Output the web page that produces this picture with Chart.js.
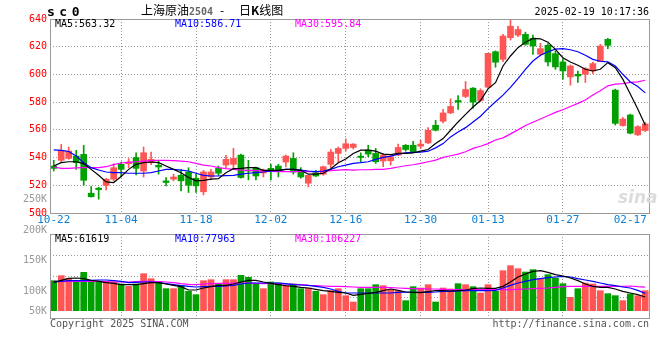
<!DOCTYPE html>
<html lang="zh">
<head>
  <meta charset="UTF-8">
  <title>上海原油2504 - 日K线图</title>
  <script src="https://cdn.jsdelivr.net/npm/chart.js"></script>
  <style>
    body { margin: 0; background: #fff; }
    #wrap { position: relative; width: 660px; height: 360px; overflow: hidden;
            font-family: 'DejaVu Sans Mono', monospace; font-size: 10px; }
    #wrap canvas { position: absolute; left: 0; top: 0; }
    .t { position: absolute; white-space: pre; line-height: 10px; }
    .vl { right: 613px; text-align: right; color: #999; }
  </style>
</head>
<body>
<div id="wrap">
  <canvas id="kChart" width="660" height="360"></canvas>
  <canvas id="volChart" width="660" height="360"></canvas>

  <div class="t" style="left:47px;top:5px;font:bold 13px 'DejaVu Sans Mono';line-height:13px;letter-spacing:4.5px">sc0</div>
  <div class="t" style="left:141px;top:4px;font:12px 'Noto Sans CJK SC';line-height:12px">上海原油<span style="font:bold 10px 'DejaVu Sans Mono';color:#666">2504</span></div>
  <div class="t" style="left:220px;top:4px;font:12px 'Noto Sans CJK SC';line-height:12px">-</div>
  <div class="t" style="left:239px;top:4px;font:12px 'Noto Sans CJK SC';line-height:12px">日<b>K</b>线图</div>
  <div class="t" style="right:11px;top:7px">2025-02-19 10:17:36</div>

  <div class="t" id="ma5Label" style="left:55px;top:19px;color:#000"></div>
  <div class="t" id="ma10Label" style="left:175px;top:19px;color:#00f"></div>
  <div class="t" id="ma30Label" style="left:295px;top:19px;color:#f0f"></div>

  <div class="t" id="vma5Label" style="left:55px;top:234px;color:#000"></div>
  <div class="t" id="vma10Label" style="left:175px;top:234px;color:#00f"></div>
  <div class="t" id="vma30Label" style="left:295px;top:234px;color:#f0f"></div>

  <div class="t vl" style="top:194px">250K</div>
  <div class="t vl" style="top:225px">200K</div>
  <div class="t vl" style="top:255px">150K</div>
  <div class="t vl" style="top:286px">100K</div>
  <div class="t vl" style="top:306px">50K</div>

  <div class="t" style="left:618px;top:189px;font:italic bold 17px 'DejaVu Sans';line-height:17px;color:#dcdcdc">sina</div>

  <div class="t" style="left:50px;top:319px;color:#555">Copyright 2025 SINA.COM</div>
  <div class="t" style="right:11px;top:319px;color:#555">http://finance.sina.com.cn</div>
</div>

<script>
  // trading days shown on the chart
  const dates = [
    '10-22','10-23','10-24','10-25','10-28','10-29','10-30','10-31','11-01','11-04',
    '11-05','11-06','11-07','11-08','11-11','11-12','11-13','11-14','11-15','11-18',
    '11-19','11-20','11-21','11-22','11-25','11-26','11-27','11-28','11-29','12-02',
    '12-03','12-04','12-05','12-06','12-09','12-10','12-11','12-12','12-13','12-16',
    '12-17','12-18','12-19','12-20','12-23','12-24','12-25','12-26','12-27','12-30',
    '12-31','01-02','01-03','01-06','01-07','01-08','01-09','01-10','01-13','01-14',
    '01-15','01-16','01-17','01-20','01-21','01-22','01-23','01-24','01-27','02-05',
    '02-06','02-07','02-10','02-11','02-12','02-13','02-14','02-17','02-18','02-19'
  ];
  const tickDates = ['10-22','11-04','11-18','12-02','12-16','12-30','01-13','01-27','02-17'];
  const gridDates = ['11-04','11-18','12-02','12-16','12-30','01-13','01-27'];

  const open = [
    533.9,538.0,539.4,541.1,542.3,514.3,517.9,520.0,524.4,535.1,
    535.6,540.0,530.3,536.3,534.4,523.2,524.4,527.2,529.6,525.1,
    515.3,526.0,532.2,534.6,535.1,541.8,531.0,532.7,528.9,532.2,
    533.9,536.8,539.4,530.8,521.5,529.1,528.0,535.1,543.0,546.6,
    547.3,541.0,545.4,543.0,537.5,537.7,541.8,548.9,548.9,548.2,
    550.6,563.3,566.2,572.2,581.2,584.1,590.1,581.2,590.8,616.4,
    610.9,626.5,628.4,628.9,626.0,614.5,621.0,615.0,609.0,598.2,
    600.1,600.1,602.5,609.2,625.3,588.7,563.1,570.7,556.4,559.5
  ];
  const high = [
    538.0,549.5,547.6,545.2,548.8,519.1,518.6,525.1,535.6,536.8,
    539.2,543.5,547.6,544.0,538.0,525.6,528.0,531.5,532.7,528.0,
    530.8,531.5,533.9,541.6,546.6,542.5,538.0,533.2,531.7,535.1,
    535.1,541.8,543.5,532.7,527.2,530.8,533.9,545.9,547.6,553.5,
    550.1,543.4,548.9,546.6,543.0,542.2,549.7,549.4,551.8,552.5,
    561.6,566.9,574.8,582.4,584.8,594.9,590.5,589.6,615.4,617.0,
    628.9,640.0,634.8,630.5,628.4,622.4,622.2,616.9,610.9,606.8,
    602.5,604.9,609.0,621.7,626.0,589.4,569.0,571.4,563.0,565.5
  ];
  const low = [
    530.3,536.3,538.7,531.5,520.0,511.5,510.0,516.7,523.2,526.0,
    532.7,527.5,526.0,534.9,528.0,519.6,523.2,516.0,514.8,514.8,
    513.1,523.9,527.2,532.7,532.2,525.1,523.9,523.9,526.0,523.9,
    526.0,533.2,528.0,525.1,518.9,526.3,527.2,532.7,536.8,544.7,
    546.1,537.0,540.6,535.8,533.4,534.6,541.3,544.6,543.7,546.6,
    550.1,559.2,565.0,571.7,574.8,583.2,575.7,580.5,590.1,605.2,
    609.2,624.8,627.2,621.0,614.5,613.3,606.1,603.7,596.6,592.2,
    594.2,594.2,600.6,609.2,618.6,563.5,562.6,557.1,555.9,558.8
  ];
  const close = [
    532.2,545.2,544.7,536.3,523.6,511.7,516.9,524.4,532.7,531.5,
    536.8,532.2,543.5,538.7,533.2,522.0,526.0,523.2,520.0,519.6,
    529.6,529.6,528.7,538.7,539.4,525.6,530.3,526.7,531.0,529.8,
    530.3,541.1,529.6,526.0,527.2,526.7,533.4,544.0,546.6,550.0,
    549.7,540.1,542.5,537.0,541.8,540.6,547.3,545.8,544.2,549.7,
    559.7,559.7,572.2,576.9,580.0,589.1,580.0,588.4,615.2,608.8,
    627.7,634.8,632.4,621.7,620.5,618.6,609.0,605.4,602.5,606.1,
    598.9,604.2,607.8,620.5,621.0,564.7,567.8,557.6,562.3,564.3
  ];

  // moving averages as drawn on the price panel
  const ma5 = [
    533.9,536.3,537.0,537.0,535.6,531.5,527.2,522.4,522.0,526.3,
    531.5,535.1,536.3,536.8,536.3,533.9,531.5,529.1,525.6,523.2,
    523.6,524.4,524.8,529.1,532.0,532.2,532.7,532.7,530.8,530.8,
    530.8,531.5,531.5,530.8,528.0,528.0,528.7,532.0,536.3,539.0,
    543.0,545.4,545.4,544.6,542.5,542.2,543.0,543.0,543.4,544.6,
    545.8,550.1,553.7,559.7,565.7,571.2,576.5,581.2,589.6,594.0,
    606.1,613.3,619.3,623.3,626.0,625.7,623.3,618.1,612.1,609.0,
    606.6,603.7,602.5,603.7,608.5,604.9,596.6,585.8,575.0,563.3
  ];
  const ma10 = [
    545.6,545.2,544.4,541.1,536.3,532.7,531.0,529.6,529.1,529.1,
    528.7,528.7,528.7,529.1,530.3,531.5,531.5,531.0,530.3,528.7,
    527.2,526.7,526.7,527.0,527.2,528.0,528.7,529.1,529.6,530.3,
    530.6,531.5,531.5,531.0,530.3,529.9,530.3,531.5,533.4,534.5,
    535.8,536.3,537.0,538.7,540.1,541.1,542.5,543.4,543.7,543.9,
    544.6,547.0,550.1,554.9,558.5,561.6,565.7,569.8,575.3,580.3,
    585.1,590.6,597.0,603.7,609.7,613.8,616.4,618.3,618.6,617.8,
    616.4,613.8,610.9,609.5,609.0,606.1,600.1,594.6,591.3,586.7
  ];
  const ma30 = [
    533.2,532.2,532.2,532.5,532.7,532.7,532.7,533.4,534.9,536.1,
    536.6,537.0,537.5,537.8,538.0,538.0,537.8,537.5,537.0,535.8,
    534.6,533.9,532.7,532.0,531.5,531.0,530.8,530.6,530.3,530.1,
    529.9,529.9,529.9,529.9,529.9,529.9,530.1,530.6,531.0,531.3,
    531.0,531.2,531.2,531.5,531.5,532.2,533.2,534.1,534.8,535.8,
    537.0,538.2,540.1,541.3,542.5,544.2,546.6,548.2,550.1,552.7,
    554.2,557.1,560.0,563.1,565.5,567.8,570.2,572.6,574.5,576.9,
    579.1,581.5,585.1,588.2,591.8,593.0,593.4,594.2,594.6,595.8
  ];

  // volume (lots) and its moving averages
  const volume = [
    135000,157500,144000,129000,172500,132000,129000,129000,129000,120000,
    109500,120000,166500,144000,129000,99000,99000,114000,87000,72000,
    135000,139500,121500,139500,139500,159000,150000,121500,99000,129000,
    124500,109500,120000,99000,102000,87000,72000,90000,99000,67500,
    39000,99000,99000,117000,112500,94500,90000,45000,108000,102000,
    117000,39000,102000,97500,121500,117000,108000,79500,117000,87000,
    180000,202500,189000,174000,184500,144000,162000,147000,121500,60000,
    99000,124500,120000,90000,76500,67500,45000,75000,67500,90000
  ];
  const vma5 = [
    127500,136500,145500,147000,144000,136500,132000,126000,123000,117000,
    117000,117000,121500,126000,126000,120000,114000,108000,93000,93000,
    102000,108000,114000,114000,120000,129000,136500,136500,129000,123000,
    117000,112500,109500,105000,102000,96000,90000,87000,82500,79500,
    69000,73500,78000,82500,90000,97500,91500,84000,82500,81000,
    85500,90000,90000,88500,90000,93000,99000,102000,100500,100500,
    109500,129000,151500,165000,177000,180000,172500,162000,156000,147000,
    135000,120000,109500,105000,105000,97500,87000,79500,72000,61619
  ];
  const vma10 = [
    129000,132000,135000,135000,135000,136500,138000,138000,135000,132000,
    126000,127500,129000,129000,126000,121500,117000,112500,109500,106500,
    108000,109500,109500,111000,114000,120000,124500,124500,124500,124500,
    124500,121500,117000,115500,114000,109500,105000,97500,87000,79500,
    79500,79500,79500,79500,79500,79500,82500,84000,82500,82500,
    82500,84000,87000,87000,88500,90000,90000,90000,90000,91500,
    102000,114000,124500,132000,139500,144000,148500,151500,154500,151500,
    144000,138000,132000,124500,117000,112500,106500,102000,91500,77963
  ];
  const vma30 = [
    132000,132000,132000,132000,132000,132000,132000,130500,129000,129000,
    129000,130500,132000,132000,130500,129000,126000,121500,118500,117000,
    120000,121500,123000,123000,124500,124500,124500,123000,121500,121500,
    121500,120000,118500,117000,114000,112500,111000,109500,109500,108000,
    106500,105000,105000,105000,105000,103500,102000,100500,99000,99000,
    97500,97500,96000,94500,94500,94500,94500,94500,94500,94500,
    94500,94500,96000,97500,99000,100500,102000,105000,108000,109500,
    109500,109500,109500,109500,109500,109500,109500,111000,108000,106227
  ];

  // header values
  const maText = ['MA5:563.32', 'MA10:586.71', 'MA30:595.84'];
  const vmaText = ['MA5:61619', 'MA10:77963', 'MA30:106227'];

  const RED = '#ff5555', GREEN = '#00a000', GRID = '#999';
  const FONT = 'DejaVu Sans Mono';

  document.getElementById('ma5Label').textContent = maText[0];
  document.getElementById('ma10Label').textContent = maText[1];
  document.getElementById('ma30Label').textContent = maText[2];
  document.getElementById('vma5Label').textContent = vmaText[0];
  document.getElementById('vma10Label').textContent = vmaText[1];
  document.getElementById('vma30Label').textContent = vmaText[2];

  const candleColors = dates.map((d, i) => close[i] >= open[i] ? RED : GREEN);

  // solid grey box round each panel
  const frame = {
    id: 'frame',
    afterDraw(chart) {
      const a = chart.chartArea, ctx = chart.ctx;
      ctx.save();
      ctx.strokeStyle = '#999';
      ctx.lineWidth = 1;
      ctx.setLineDash([]);
      ctx.strokeRect(Math.round(a.left) + 0.5, Math.round(a.top) + 0.5,
                     Math.round(a.right - a.left), Math.round(a.bottom - a.top));
      ctx.restore();
    }
  };

  function maLine(values, color) {
    return { type: 'line', data: values, borderColor: color, borderWidth: 1.2,
             pointRadius: 0, tension: 0, order: 0 };
  }

  function xAxis(showLabels, height) {
    return {
      offset: true,
      grid: {
        offset: false, drawTicks: false, lineWidth: 1,
        color: c => gridDates.includes(dates[c.index]) ? GRID : 'rgba(0,0,0,0)'
      },
      border: { display: false, dash: [1, 2] },
      ticks: {
        display: showLabels, autoSkip: false, maxRotation: 0, minRotation: 0, padding: 1,
        color: '#0a80d8', font: { family: FONT, size: 11 },
        callback: (v, i) => tickDates.includes(dates[i]) ? dates[i] : ''
      },
      afterFit: s => { s.height = height; }
    };
  }

  // price panel
  new Chart(document.getElementById('kChart'), {
    type: 'bar',
    data: {
      labels: dates,
      datasets: [
        maLine(ma5, '#000'),
        maLine(ma10, '#00f'),
        maLine(ma30, '#f0f'),
        { data: dates.map((d, i) => [open[i], close[i]]), backgroundColor: candleColors,
          barThickness: 6, minBarLength: 1, grouped: false, order: 1 },
        { data: dates.map((d, i) => [low[i], high[i]]), backgroundColor: candleColors,
          barThickness: 1, grouped: false, order: 2 }
      ]
    },
    options: {
      responsive: false,
      animation: false,
      events: [],
      layout: { padding: { top: 19, right: 11, left: 0, bottom: 0 } },
      plugins: { legend: { display: false }, tooltip: { enabled: false } },
      scales: {
        x: xAxis(true, 147),
        y: {
          min: 500, max: 640,
          ticks: { stepSize: 20, color: '#f00', padding: 3, font: { family: FONT, size: 10 } },
          grid: { drawTicks: false, color: GRID, lineWidth: 1 },
          border: { display: false, dash: [1, 2] },
          afterFit: s => { s.width = 50; }
        }
      }
    },
    plugins: [frame]
  });

  // volume panel
  new Chart(document.getElementById('volChart'), {
    type: 'bar',
    data: {
      labels: dates,
      datasets: [
        maLine(vma5, '#000'),
        maLine(vma10, '#00f'),
        maLine(vma30, '#f0f'),
        { data: volume, backgroundColor: candleColors, barThickness: 6, grouped: false, order: 1 }
      ]
    },
    options: {
      responsive: false,
      animation: false,
      events: [],
      layout: { padding: { top: 234, right: 11, left: 0, bottom: 0 } },
      plugins: { legend: { display: false }, tooltip: { enabled: false } },
      scales: {
        x: xAxis(false, 42),
        y: {
          min: -33000, max: 345000,
          // four equal bands, as on the original panel
          afterBuildTicks: s => { s.ticks = [-33000, 61500, 156000, 250500, 345000].map(v => ({ value: v })); },
          ticks: { display: false },
          grid: { drawTicks: false, color: GRID, lineWidth: 1 },
          border: { display: false, dash: [1, 2] },
          afterFit: s => { s.width = 50; }
        }
      }
    },
    plugins: [frame]
  });
</script>
</body>
</html>
